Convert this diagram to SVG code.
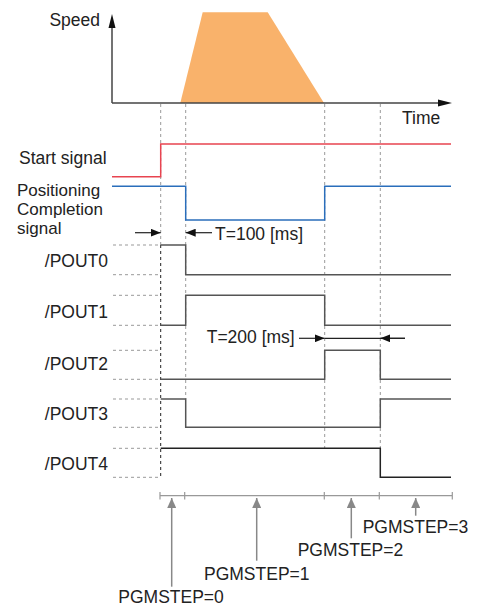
<svg xmlns="http://www.w3.org/2000/svg" width="488" height="605" viewBox="0 0 488 605">
<style>
text{font-family:"Liberation Sans",Arial,sans-serif;font-size:17.5px;fill:#222}
.r{text-anchor:end}
.sm{font-size:17px}
.dash{stroke:#999;stroke-width:1;stroke-dasharray:3,3;fill:none}
.dashk{stroke:#222;stroke-width:1;stroke-dasharray:3,3;fill:none}
.sig{stroke:#555;stroke-width:1.5;fill:none}
.sigk{stroke:#222;stroke-width:1.5;fill:none}
.ax{stroke:#444;stroke-width:1.5;fill:none}
.gray{stroke:#888;stroke-width:1.5;fill:none}
.tl{stroke:#999;stroke-width:1.2;fill:none}
</style>
<defs>
<marker id="ah" viewBox="0 0 10 8" refX="10" refY="4" markerWidth="10" markerHeight="8" markerUnits="userSpaceOnUse" orient="auto"><path d="M0,0L10,4L0,8z" fill="#111"/></marker>
<marker id="gh" viewBox="0 0 9 10" refX="4.5" refY="0" markerWidth="9" markerHeight="10" markerUnits="userSpaceOnUse" orient="0"><path d="M0,10L4.5,0L9,10z" fill="#888"/></marker>
</defs>
<g id="speed-chart">
<polygon points="180.3,103 202.7,12.3 267.7,12.3 324,103" fill="#f9b26b"/>
<line class="ax" x1="112" y1="103" x2="112" y2="26"/>
<path d="M108.5,28L112,14L115.5,28z" fill="#111"/>
<line class="ax" x1="112" y1="103" x2="440" y2="103"/>
<path d="M438,99.5L452,103L438,106.5z" fill="#111"/>
<text x="100" y="26" class="r">Speed</text>
<text x="402" y="124">Time</text>
</g>
<g id="guides">
<line class="dash" x1="160.7" y1="104" x2="160.7" y2="245"/>
<line class="dashk" x1="160.7" y1="245" x2="160.7" y2="477"/>
<line class="dash" x1="185.7" y1="104" x2="185.7" y2="399"/>
<line class="dash" x1="324.7" y1="104" x2="324.7" y2="448"/>
<line class="dash" x1="380.3" y1="104" x2="380.3" y2="448"/>
<path class="dash" d="M113,245H160M113,274.7H160M113,295.3H160M113,325.3H160M113,350.3H160M113,379.3H160M113,399H160M113,427.3H160M113,448.3H160M113,477.3H160"/>
</g>
<g id="start-signal">
<path d="M112,176.7H160.7V144H451" stroke="#e84450" stroke-width="1.5" fill="none"/>
<text x="19" y="164">Start signal</text>
</g>
<g id="positioning-completion">
<path d="M112,186.3H185.7V220H324.7V186.3H451" stroke="#2a6ebb" stroke-width="1.5" fill="none"/>
<text x="17" y="196" class="sm">Positioning</text>
<text x="17" y="215" class="sm">Completion</text>
<text x="17" y="234" class="sm">signal</text>
</g>
<g id="t100">
<line x1="135" y1="232.7" x2="160.7" y2="232.7" stroke="#222" stroke-width="1.2" marker-end="url(#ah)"/>
<line x1="212" y1="232.7" x2="185.7" y2="232.7" stroke="#222" stroke-width="1.2" marker-end="url(#ah)"/>
<text x="215" y="240">T=100 [ms]</text>
</g>
<g id="pout0">
<path class="sig" d="M160.7,245H185.7V274.7H451"/>
<text x="108" y="267.3" class="r">/POUT0</text>
</g>
<g id="pout1">
<path class="sig" d="M160.7,325.3H185.7V295.3H324.7V325.3H451"/>
<text x="108" y="318.3" class="r">/POUT1</text>
</g>
<g id="t200">
<line x1="299" y1="338.3" x2="324.7" y2="338.3" stroke="#222" stroke-width="1.2" marker-end="url(#ah)"/>
<line x1="324.7" y1="338.3" x2="405" y2="338.3" stroke="#222" stroke-width="1.2"/>
<line x1="405" y1="338.3" x2="380.3" y2="338.3" stroke="#222" stroke-width="1.2" marker-end="url(#ah)"/>
<text x="206.7" y="343">T=200 [ms]</text>
</g>
<g id="pout2">
<path class="sig" d="M160.7,379.3H324.7V350.3H380.3V379.3H451"/>
<text x="108" y="370" class="r">/POUT2</text>
</g>
<g id="pout3">
<path class="sig" d="M160.7,399H185.7V427.3H380.3V399H451"/>
<text x="108" y="420" class="r">/POUT3</text>
</g>
<g id="pout4">
<path class="sigk" d="M160.7,448.3H380.3V477.3H451"/>
<text x="108" y="470" class="r">/POUT4</text>
</g>
<g id="timeline">
<line class="tl" x1="160" y1="495.7" x2="452" y2="495.7"/>
<path class="tl" d="M160,492V499.5M184.7,492V499.5M324.3,492V499.5M379.3,492V499.5M452.3,492V499.5"/>
</g>
<g id="connectors">
<line class="gray" x1="171.7" y1="586.7" x2="171.7" y2="498" marker-end="url(#gh)"/>
<line class="gray" x1="256.7" y1="560.7" x2="256.7" y2="498" marker-end="url(#gh)"/>
<line class="gray" x1="351.3" y1="538.3" x2="351.3" y2="498" marker-end="url(#gh)"/>
<line class="gray" x1="415.7" y1="515.7" x2="415.7" y2="498" marker-end="url(#gh)"/>
</g>
<g id="step0"><text x="118.3" y="602.5">PGMSTEP=0</text></g>
<g id="step1"><text x="204" y="580">PGMSTEP=1</text></g>
<g id="step2"><text x="297.7" y="556">PGMSTEP=2</text></g>
<g id="step3"><text x="362.7" y="533.3">PGMSTEP=3</text></g>
</svg>
